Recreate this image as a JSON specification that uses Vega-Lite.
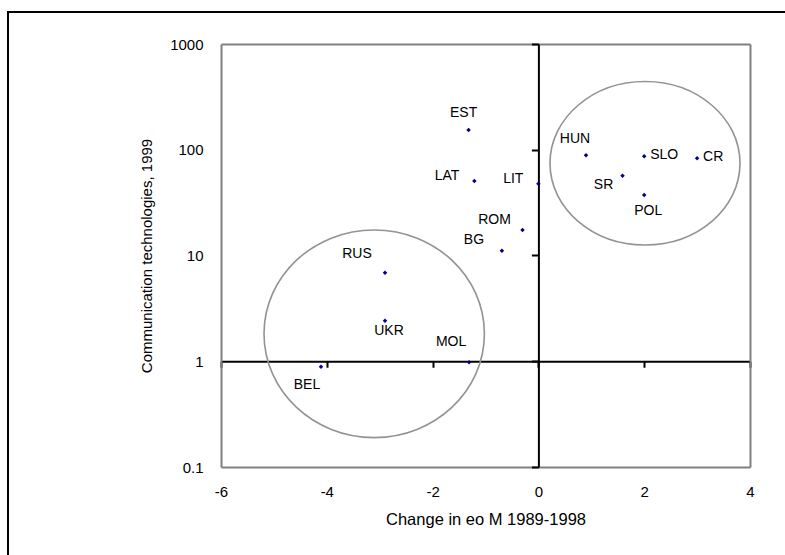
{
  "$schema": "https://vega.github.io/schema/vega-lite/v6.json",
  "width": 777,
  "height": 543,
  "autosize": {"type": "none"},
  "padding": {"left": 8, "top": 12, "right": 0, "bottom": 0},
  "background": "white",
  "config": {
    "font": "Liberation Sans",
    "view": {"stroke": "black", "strokeWidth": 2, "strokeDash": [777, 1320, 543, 1]},
    "axis": {
      "grid": false,
      "labelColor": "black",
      "titleColor": "black",
      "labelFont": "Liberation Sans",
      "titleFont": "Liberation Sans",
      "titleFontWeight": "normal",
      "labelFontSize": 15,
      "titleFontSize": 15,
      "labelFlush": false,
      "labelOverlap": false,
      "zindex": 0
    },
    "text": {"font": "Liberation Sans", "fontSize": 14, "color": "black"}
  },
  "datasets": {
    "countries": [
      {"c": "EST", "x": -1.32, "y": 154},
      {"c": "LAT", "x": -1.21, "y": 50.6},
      {"c": "LIT", "x": 0.0, "y": 47.8},
      {"c": "ROM", "x": -0.3, "y": 17.4},
      {"c": "BG", "x": -0.69, "y": 11.1},
      {"c": "RUS", "x": -2.9, "y": 6.88},
      {"c": "UKR", "x": -2.9, "y": 2.42},
      {"c": "MOL", "x": -1.31, "y": 0.98},
      {"c": "BEL", "x": -4.11, "y": 0.888},
      {"c": "HUN", "x": 0.9, "y": 88.6},
      {"c": "SLO", "x": 2.0, "y": 86.7},
      {"c": "CR", "x": 3.0, "y": 83.0},
      {"c": "SR", "x": 1.59, "y": 56.9},
      {"c": "POL", "x": 2.0, "y": 37.3}
    ],
    "clusters": [
      {"g": "central", "x": 2.015, "y": 74.5},
      {"g": "eastern", "x": -3.104, "y": 1.818}
    ]
  },
  "layer": [
    {
      "data": {"name": "clusters"},
      "transform": [{"filter": "datum.g === 'central'"}],
      "mark": {
        "type": "point",
        "shape": "M-1,0C-1,-0.475,-0.552,-0.86,0,-0.86C0.552,-0.86,1,-0.475,1,0C1,0.475,0.552,0.86,0,0.86C-0.552,0.86,-1,0.475,-1,0Z",
        "size": 36100,
        "filled": false,
        "color": "#939393",
        "strokeWidth": 1.6,
        "opacity": 1
      },
      "encoding": {
        "x": {
          "field": "x", "type": "quantitative",
          "scale": {"domain": [-6, 4], "range": [213, 742], "nice": false, "zero": false},
          "axis": {
            "orient": "bottom", "offset": -88,
            "values": [-6, -4, -2, 0, 2, 4],
            "labelExpr": "'' + datum.value",
            "ticks": false, "tickSize": 0,
            "domainColor": "#808080", "domainWidth": 2,
            "labelPadding": 17,
            "title": "Change in eo M 1989-1998", "titlePadding": 12, "titleFontSize": 16.5
          }
        },
        "y": {
          "field": "y", "type": "quantitative",
          "scale": {"type": "log", "domain": [0.1, 1000], "range": [455, 32], "nice": false},
          "axis": {
            "orient": "left", "offset": -213,
            "values": [0.1, 1, 10, 100, 1000],
            "labelExpr": "'' + datum.value",
            "ticks": false, "tickSize": 0,
            "domainColor": "#808080", "domainWidth": 2,
            "labelPadding": 18,
            "title": "Communication technologies, 1999", "titlePadding": 15
          }
        }
      }
    },
    {
      "data": {"name": "clusters"},
      "transform": [{"filter": "datum.g === 'eastern'"}],
      "mark": {
        "type": "point",
        "shape": "M-1,0C-1,-0.52,-0.552,-0.942,0,-0.942C0.552,-0.942,1,-0.52,1,0C1,0.52,0.552,0.942,0,0.942C-0.552,0.942,-1,0.52,-1,0Z",
        "size": 48576,
        "filled": false,
        "color": "#939393",
        "strokeWidth": 1.6,
        "opacity": 1
      },
      "encoding": {
        "x": {
          "field": "x", "type": "quantitative",
          "axis": {
            "orient": "bottom", "offset": -193.75,
            "values": [-6, -4, -2, 0, 2, 4],
            "labels": false,
            "ticks": true, "tickSize": 6, "tickColor": "black", "tickWidth": 2,
            "domainColor": "black", "domainWidth": 2,
            "title": null
          }
        },
        "y": {
          "field": "y", "type": "quantitative",
          "axis": {
            "orient": "left", "offset": -530.4,
            "values": [0.1, 1, 10, 100, 1000],
            "labels": false,
            "ticks": true, "tickSize": 7, "tickColor": "black", "tickWidth": 2,
            "domainColor": "black", "domainWidth": 2,
            "title": null
          }
        }
      }
    },
    {
      "data": {"name": "countries"},
      "mark": {"type": "point", "shape": "diamond", "filled": true, "size": 20, "color": "#000080", "opacity": 1},
      "encoding": {
        "x": {
          "field": "x", "type": "quantitative",
          "axis": {
            "orient": "top", "offset": -32,
            "labels": false, "ticks": false,
            "domainColor": "#808080", "domainWidth": 2,
            "title": null
          }
        },
        "y": {
          "field": "y", "type": "quantitative",
          "axis": {
            "orient": "right", "offset": -35,
            "labels": false, "ticks": false,
            "domainColor": "#808080", "domainWidth": 2,
            "title": null
          }
        }
      }
    },
    {
      "data": {"name": "countries"},
      "transform": [{"filter": {"field": "c", "oneOf": ["EST"]}}],
      "mark": {"type": "text", "align": "center", "baseline": "middle", "dx": -5, "dy": -16.5},
      "encoding": {
        "x": {"field": "x", "type": "quantitative", "axis": null},
        "y": {"field": "y", "type": "quantitative", "axis": null},
        "text": {"field": "c"}
      }
    },
    {
      "data": {"name": "countries"},
      "transform": [{"filter": {"field": "c", "oneOf": ["HUN"]}}],
      "mark": {"type": "text", "align": "center", "baseline": "middle", "dx": -11, "dy": -16},
      "encoding": {
        "x": {"field": "x", "type": "quantitative", "axis": null},
        "y": {"field": "y", "type": "quantitative", "axis": null},
        "text": {"field": "c"}
      }
    },
    {
      "data": {"name": "countries"},
      "transform": [{"filter": {"field": "c", "oneOf": ["RUS"]}}],
      "mark": {"type": "text", "align": "center", "baseline": "middle", "dx": -28, "dy": -19},
      "encoding": {
        "x": {"field": "x", "type": "quantitative", "axis": null},
        "y": {"field": "y", "type": "quantitative", "axis": null},
        "text": {"field": "c"}
      }
    },
    {
      "data": {"name": "countries"},
      "transform": [{"filter": {"field": "c", "oneOf": ["MOL"]}}],
      "mark": {"type": "text", "align": "center", "baseline": "middle", "dx": -18, "dy": -20},
      "encoding": {
        "x": {"field": "x", "type": "quantitative", "axis": null},
        "y": {"field": "y", "type": "quantitative", "axis": null},
        "text": {"field": "c"}
      }
    },
    {
      "data": {"name": "countries"},
      "transform": [{"filter": {"field": "c", "oneOf": ["ROM", "BG"]}}],
      "mark": {"type": "text", "align": "center", "baseline": "middle", "dx": -28, "dy": -10.5},
      "encoding": {
        "x": {"field": "x", "type": "quantitative", "axis": null},
        "y": {"field": "y", "type": "quantitative", "axis": null},
        "text": {"field": "c"}
      }
    },
    {
      "data": {"name": "countries"},
      "transform": [{"filter": {"field": "c", "oneOf": ["LAT", "LIT"]}}],
      "mark": {"type": "text", "align": "right", "baseline": "middle", "dx": -15, "dy": -5},
      "encoding": {
        "x": {"field": "x", "type": "quantitative", "axis": null},
        "y": {"field": "y", "type": "quantitative", "axis": null},
        "text": {"field": "c"}
      }
    },
    {
      "data": {"name": "countries"},
      "transform": [{"filter": {"field": "c", "oneOf": ["UKR"]}}],
      "mark": {"type": "text", "align": "center", "baseline": "middle", "dx": 4, "dy": 10.5},
      "encoding": {
        "x": {"field": "x", "type": "quantitative", "axis": null},
        "y": {"field": "y", "type": "quantitative", "axis": null},
        "text": {"field": "c"}
      }
    },
    {
      "data": {"name": "countries"},
      "transform": [{"filter": {"field": "c", "oneOf": ["POL"]}}],
      "mark": {"type": "text", "align": "center", "baseline": "middle", "dx": 4, "dy": 16},
      "encoding": {
        "x": {"field": "x", "type": "quantitative", "axis": null},
        "y": {"field": "y", "type": "quantitative", "axis": null},
        "text": {"field": "c"}
      }
    },
    {
      "data": {"name": "countries"},
      "transform": [{"filter": {"field": "c", "oneOf": ["SLO", "CR"]}}],
      "mark": {"type": "text", "align": "left", "baseline": "middle", "dx": 6, "dy": -1},
      "encoding": {
        "x": {"field": "x", "type": "quantitative", "axis": null},
        "y": {"field": "y", "type": "quantitative", "axis": null},
        "text": {"field": "c"}
      }
    },
    {
      "data": {"name": "countries"},
      "transform": [{"filter": {"field": "c", "oneOf": ["BEL"]}}],
      "mark": {"type": "text", "align": "center", "baseline": "middle", "dx": -14, "dy": 18},
      "encoding": {
        "x": {"field": "x", "type": "quantitative", "axis": null},
        "y": {"field": "y", "type": "quantitative", "axis": null},
        "text": {"field": "c"}
      }
    },
    {
      "data": {"name": "countries"},
      "transform": [{"filter": {"field": "c", "oneOf": ["SR"]}}],
      "mark": {"type": "text", "align": "center", "baseline": "middle", "dx": -19, "dy": 9},
      "encoding": {
        "x": {"field": "x", "type": "quantitative", "axis": null},
        "y": {"field": "y", "type": "quantitative", "axis": null},
        "text": {"field": "c"}
      }
    }
  ],
  "resolve": {"axis": {"x": "independent", "y": "independent"}}
}
